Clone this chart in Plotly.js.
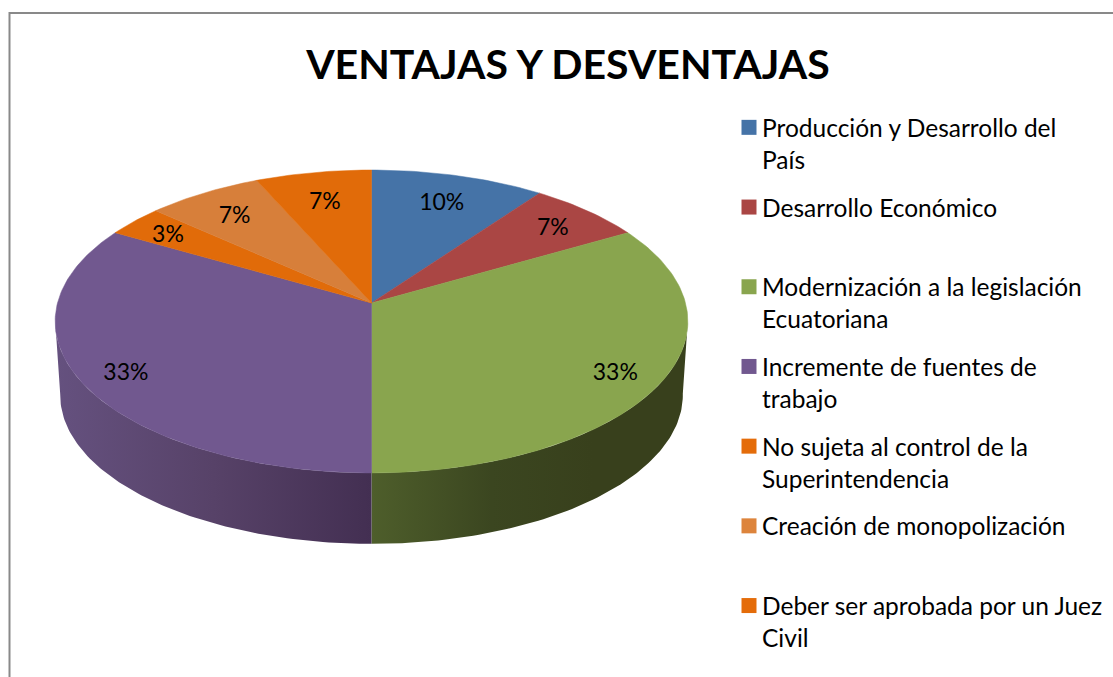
<!DOCTYPE html>
<html><head><meta charset="utf-8">
<script src="https://cdn.plot.ly/plotly-3.0.1.min.js"></script>
<style>html,body{margin:0;padding:0;background:#fff;overflow:hidden}#c{width:1113px;height:677px}</style>
</head><body><div id="c"></div>
<script>
const categories = ["Producción y Desarrollo del<br>País","Desarrollo Económico<br> ","Modernización a la legislación<br>Ecuatoriana","Incremente de fuentes de<br>trabajo","No sujeta al control de la<br>Superintendencia","Creación de monopolización<br> ","Deber ser aprobada por un Juez<br>Civil"];
const values = [3,2,10,10,1,2,2];
const sliceColors = ["#4573A7","#AA4644","#89A54E","#71588F","#E16B09","#D77F3A","#E16B09"];
const legendColors = ["#4573A7","#AA4644","#89A54E","#71588F","#E46C0A","#DD843C","#E46C0A"];
const labelRadius = [.79,.83,.85,.856,.85,.8,.78];

// perspective of the tilted pie
const cx=371.5, apexY=303, persp=-0.122, topFace={d:314,k:149.2,oy:apexY}, botFace={d:309,k:146.5,oy:377};
function proj(deg,r,p){const t=deg*Math.PI/180,u=r*Math.sin(t),v=-r*Math.cos(t),q=1+persp*v;
  return [cx+p.d*u/q,p.oy+p.k*v/q];}
const total=values.reduce((a,b)=>a+b,0);
let acc=0; const bounds=values.map(v=>{const s=acc;acc+=v;return [s/total*360,acc/total*360];});
function arc(a,b,p){const n=Math.max(2,Math.ceil(Math.abs(b-a))),o=[];for(let i=0;i<=n;i++)o.push(proj(a+(b-a)*i/n,1,p));return o;}

const data=[];
function wall(a,b,stops){const pts=arc(a,b,topFace).concat(arc(b,a,botFace));pts.push(pts[0]);
  data.push({type:'scatter',mode:'lines',x:pts.map(p=>p[0]),y:pts.map(p=>p[1]),fill:'toself',line:{width:0},
    fillgradient:{type:'horizontal',colorscale:stops},showlegend:false,hoverinfo:'skip'});}
wall(96.5,180,[[0,'#4E5E2B'],[0.38,'#3B4620'],[0.7,'#38401C'],[1,'#38401C']]);
wall(180,263.5,[[0,'#65517F'],[0.5,'#574268'],[1,'#432F52']]);

bounds.forEach((b,i)=>{
  const pts=[[cx,apexY]].concat(arc(b[0],b[1],topFace)); pts.push([cx,apexY]);
  data.push({type:'scatter',mode:'lines',x:pts.map(p=>p[0]),y:pts.map(p=>p[1]),fill:'toself',fillcolor:sliceColors[i],
    line:{width:0.5,color:sliceColors[i]},showlegend:false,hoverinfo:'skip'});
});
const lab=bounds.map((b,i)=>proj((b[0]+b[1])/2,labelRadius[i],topFace));
data.push({type:'scatter',mode:'text',x:lab.map(p=>p[0]),y:lab.map(p=>p[1]+4),
  text:values.map(v=>Math.round(v/total*100)+'%'),textposition:'middle center',
  textfont:{family:'Lato, sans-serif',size:23,color:'#000'},showlegend:false,hoverinfo:'skip'});
categories.forEach((c,i)=>{
  data.push({type:'scatter',mode:'markers',x:[null],y:[null],name:c,legendgroup:'g'+i,
    marker:{symbol:'square',size:15,color:legendColors[i]},hoverinfo:'skip'});
});

const layout={
  width:1113,height:677,margin:{l:0,r:0,t:0,b:0},paper_bgcolor:'#fff',plot_bgcolor:'#fff',
  title:{text:'<b>VENTAJAS Y DESVENTAJAS</b>',x:568/1113,xanchor:'center',xref:'paper',y:1-65/677,yanchor:'middle',yref:'paper',
    font:{family:'Lato, sans-serif',size:41,color:'#000'}},
  xaxis:{range:[0,1113],visible:false,fixedrange:true},
  yaxis:{range:[677,0],visible:false,fixedrange:true},
  shapes:[{type:'rect',xref:'x',yref:'y',x0:9.5,x1:1140,y0:13,y1:720,line:{color:'#898989',width:2},layer:'below'}],
  legend:{x:722/1113,xanchor:'left',y:1-105/677,yanchor:'top',tracegroupgap:13,bgcolor:'rgba(0,0,0,0)',
    font:{family:'Lato, sans-serif',size:24.5,color:'#000'},itemclick:false,itemdoubleclick:false},
  showlegend:true
};
Plotly.newPlot('c',data,layout,{displayModeBar:false}).then(gd=>{
  // Excel-style legend: the swatch sits beside the first text line, close to the text
  gd.querySelectorAll('.legend .legendsymbols').forEach(g=>g.setAttribute('transform','translate(7,-16)'));
});
</script></body></html>
